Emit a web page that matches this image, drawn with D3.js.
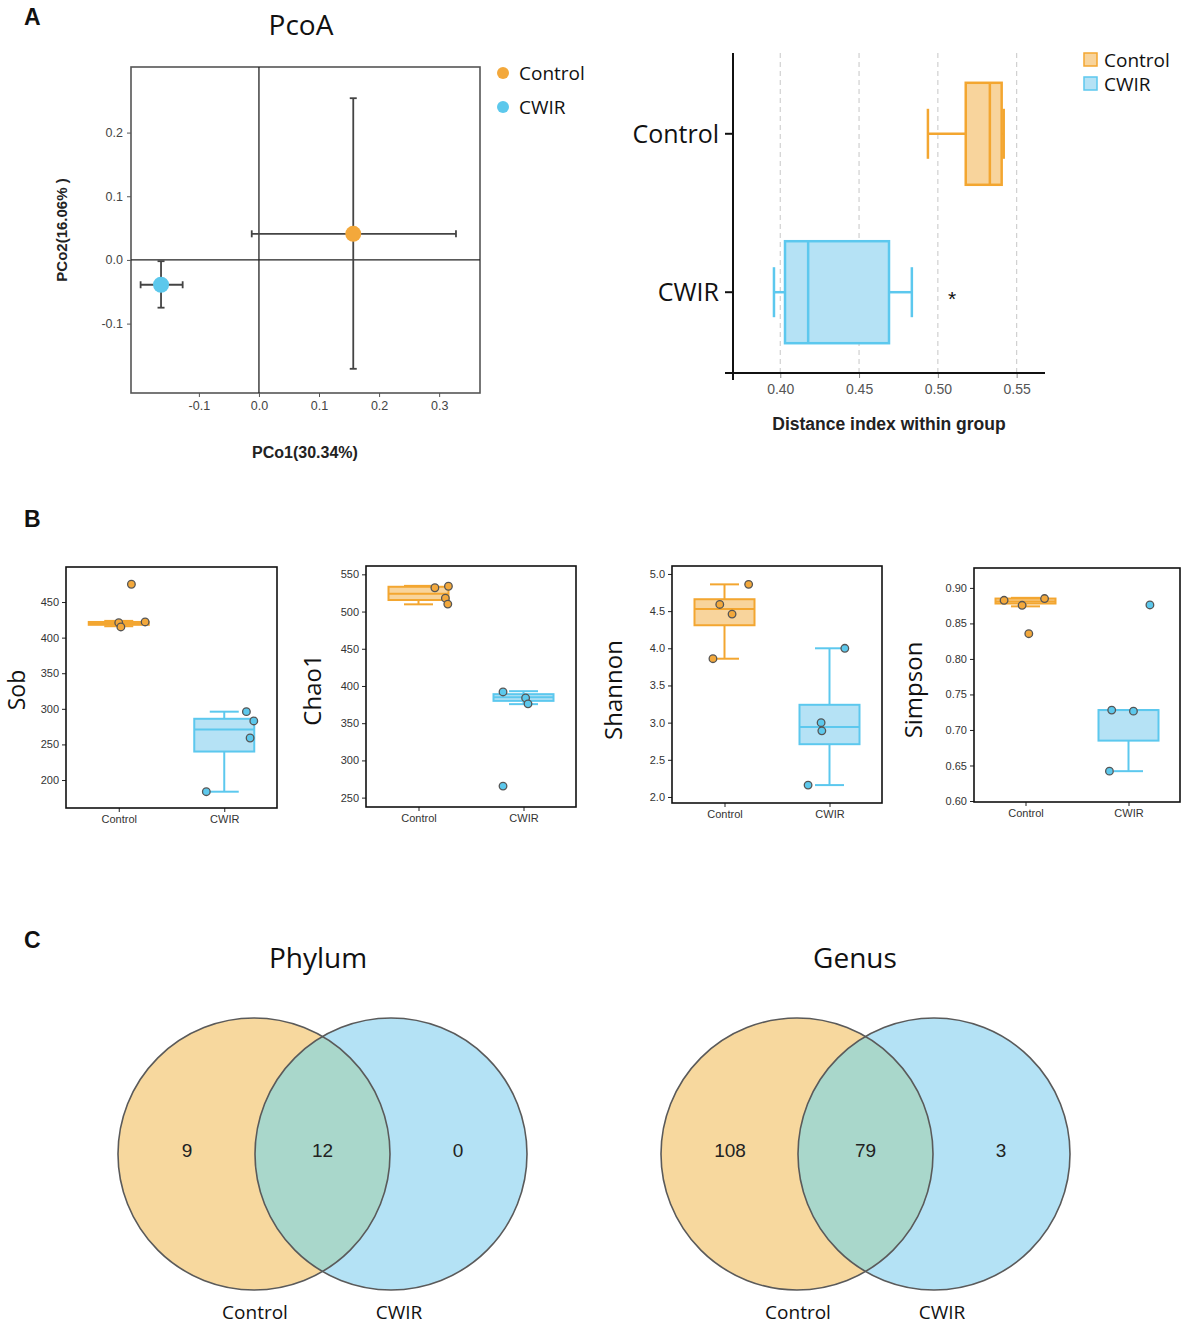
<!DOCTYPE html>
<html><head><meta charset="utf-8">
<script src="https://cdn.jsdelivr.net/npm/d3@7"></script>
<style>body{margin:0;background:#fff}svg{display:block}</style>
</head><body>
<svg id="c" width="1181" height="1325"></svg>
<script>
// ---------------- DATA ----------------
const groups = ["Control", "CWIR"];
// Panel A: PCoA group means and error-bar extents
const pcoaMeanX = [0.157, -0.163];
const pcoaMeanY = [0.041, -0.039];
const pcoaXLow = [-0.012, -0.197];
const pcoaXHigh = [0.328, -0.127];
const pcoaYLow = [-0.171, -0.075];
const pcoaYHigh = [0.254, -0.002];
const pcoaXTicks = [-0.1, 0.0, 0.1, 0.2, 0.3];
const pcoaYTicks = [-0.1, 0.0, 0.1, 0.2];
// Panel A: distance index within group (min, q1, median, q3, max)
const distStats = [[0.4937, 0.5177, 0.533, 0.5405, 0.5418], [0.396, 0.403, 0.4177, 0.469, 0.4835]];
const distTicks = [0.40, 0.45, 0.50, 0.55];
// Panel B: alpha diversity
const alphaNames = ["Sob", "Chao1", "Shannon", "Simpson"];
const alphaTicks = [
  [200, 250, 300, 350, 400, 450],
  [250, 300, 350, 400, 450, 500, 550],
  [2.0, 2.5, 3.0, 3.5, 4.0, 4.5, 5.0],
  [0.60, 0.65, 0.70, 0.75, 0.80, 0.85, 0.90]
];
const alphaTickFormat = ["d", "d", ".1f", ".2f"];
const alphaDomains = [[160.7, 499.2], [237.4, 561.2], [1.919, 5.107], [0.5986, 0.928]];
// box stats per metric per group: min, q1, median, q3, max
const sobStats = [[416, 418, 420, 422, 423.5], [183.6, 240, 271, 286, 296]];
const chaoStats = [[509.7, 515.5, 524, 533.3, 534.5], [375.6, 380, 384.7, 389, 393]];
const shannonStats = [[3.86, 4.31, 4.53, 4.66, 4.86], [2.16, 2.71, 2.94, 3.24, 4.0]];
const simpsonStats = [[0.874, 0.878, 0.881, 0.885, 0.886], [0.642, 0.685, 0.728, 0.728, 0.728]];
// sample points per metric per group
const sobPoints = [[475, 421, 415, 422], [296, 283, 259, 183.6]];
const chaoPoints = [[532, 534, 518, 510], [392, 384, 376, 265.5]];
const shannonPoints = [[4.86, 4.59, 4.46, 3.86], [4.0, 3.0, 2.89, 2.16]];
const simpsonPoints = [[0.8825, 0.8755, 0.885, 0.8355], [0.728, 0.7265, 0.876, 0.642]];
// horizontal jitter of sample points (fraction of category step)
const sobJitter = [[0.12, 0.0, 0.02, 0.25], [0.21, 0.28, 0.245, -0.17]];
const chaoJitter = [[0.156, 0.285, 0.256, 0.279], [-0.195, 0.02, 0.043, -0.195]];
const shannonJitter = [[0.23, -0.045, 0.072, -0.11], [0.146, -0.08, -0.073, -0.204]];
const simpsonJitter = [[-0.208, -0.033, 0.185, 0.032], [-0.163, 0.048, 0.208, -0.185]];
// Panel C: Venn counts (only-left, shared, only-right)
const vennTitles = ["Phylum", "Genus"];
const phylumCounts = [9, 12, 0];
const genusCounts = [108, 79, 3];

// ---------------- STYLE ----------------
const strokeCol = ["#F3A630", "#5CC8EE"];
const fillCol = ["#F8D49C", "#B5E2F5"];
const dotCol = ["#F3A83B", "#5CC8EC"];
const SANS = "'Liberation Sans', Arial, sans-serif";
const HUM = "'Open Sans', 'Noto Sans', sans-serif";
const loc = d3.formatLocale({decimal: ".", thousands: ",", grouping: [3], currency: ["", ""], minus: "-"});

const svg = d3.select("#c");

// panel letters
[["A", 25], ["B", 527], ["C", 948]].forEach(([t, y]) => {
  svg.append("text").attr("x", 24).attr("y", y).text(t)
    .attr("font-family", SANS).attr("font-weight", "bold").attr("font-size", 23).attr("fill", "#111");
});

// ---------------- PANEL A: PCoA ----------------
{
  const L = 131, R = 480, T = 67, B = 393;
  const x = d3.scaleLinear().domain([-0.213, 0.368]).range([L, R]);
  const y = d3.scaleLinear().domain([-0.209, 0.303]).range([B, T]);
  const g = svg.append("g");
  svg.append("text").attr("x", 301).attr("y", 35).attr("text-anchor", "middle")
    .attr("font-family", HUM).attr("font-size", 28).attr("fill", "#111").text("PcoA");

  const ax = g.append("g").attr("transform", `translate(0,${B})`)
    .call(d3.axisBottom(x).tickValues(pcoaXTicks).tickFormat(loc.format(".1f")).tickSize(4).tickPadding(4));
  const ay = g.append("g").attr("transform", `translate(${L},0)`)
    .call(d3.axisLeft(y).tickValues(pcoaYTicks).tickFormat(loc.format(".1f")).tickSize(4).tickPadding(4));
  [ax, ay].forEach(a => {
    a.select(".domain").remove();
    a.selectAll("line").attr("stroke", "#555");
    a.selectAll("text").attr("font-family", SANS).attr("font-size", 12.5).attr("fill", "#444");
  });
  g.append("rect").attr("x", L).attr("y", T).attr("width", R - L).attr("height", B - T)
    .attr("fill", "none").attr("stroke", "#555").attr("stroke-width", 1.6);
  g.append("line").attr("x1", x(0)).attr("x2", x(0)).attr("y1", T).attr("y2", B).attr("stroke", "#222").attr("stroke-width", 1.3);
  g.append("line").attr("x1", L).attr("x2", R).attr("y1", y(0)).attr("y2", y(0)).attr("stroke", "#222").attr("stroke-width", 1.3);

  groups.forEach((gr, i) => {
    const e = g.append("g").attr("stroke", "#444").attr("stroke-width", 1.8);
    e.append("line").attr("x1", x(pcoaXLow[i])).attr("x2", x(pcoaXHigh[i])).attr("y1", y(pcoaMeanY[i])).attr("y2", y(pcoaMeanY[i]));
    e.append("line").attr("y1", y(pcoaYLow[i])).attr("y2", y(pcoaYHigh[i])).attr("x1", x(pcoaMeanX[i])).attr("x2", x(pcoaMeanX[i]));
    [pcoaXLow[i], pcoaXHigh[i]].forEach(v => e.append("line").attr("x1", x(v)).attr("x2", x(v)).attr("y1", y(pcoaMeanY[i]) - 3.5).attr("y2", y(pcoaMeanY[i]) + 3.5));
    [pcoaYLow[i], pcoaYHigh[i]].forEach(v => e.append("line").attr("y1", y(v)).attr("y2", y(v)).attr("x1", x(pcoaMeanX[i]) - 3.5).attr("x2", x(pcoaMeanX[i]) + 3.5));
    g.append("circle").attr("cx", x(pcoaMeanX[i])).attr("cy", y(pcoaMeanY[i])).attr("r", 8).attr("fill", dotCol[i]);
    // legend
    g.append("circle").attr("cx", 503).attr("cy", 73 + i * 34).attr("r", 6).attr("fill", dotCol[i]);
    g.append("text").attr("x", 519).attr("y", 73 + i * 34).attr("dy", "0.35em").text(gr)
      .attr("font-family", HUM).attr("font-size", 19).attr("fill", "#111");
  });
  g.append("text").attr("x", 305).attr("y", 458).attr("text-anchor", "middle").text("PCo1(30.34%)")
    .attr("font-family", SANS).attr("font-weight", "bold").attr("font-size", 16).attr("fill", "#222");
  g.append("text").attr("transform", "translate(67,230) rotate(-90)").attr("text-anchor", "middle").text("PCo2(16.06% )")
    .attr("font-family", SANS).attr("font-weight", "bold").attr("font-size", 15).attr("fill", "#222");
}

// ---------------- PANEL A: distance boxplot ----------------
{
  const L = 733, R = 1045, T = 53, B = 373;
  const x = d3.scaleLinear().domain([0.370, 0.568]).range([L, R]);
  const y = d3.scalePoint().domain(groups).range([T, B]).padding(0.51);
  const g = svg.append("g");
  distTicks.forEach(t => g.append("line").attr("x1", x(t)).attr("x2", x(t)).attr("y1", T).attr("y2", B)
    .attr("stroke", "#d0d0d0").attr("stroke-width", 1.2).attr("stroke-dasharray", "5,4"));
  const ax = g.append("g").attr("transform", `translate(0,${B})`)
    .call(d3.axisBottom(x).tickValues(distTicks).tickFormat(d3.format(".2f")).tickSize(5).tickPadding(6));
  ax.select(".domain").remove();
  ax.selectAll("line").attr("stroke", "#888");
  ax.selectAll("text").attr("font-family", SANS).attr("font-size", 14).attr("fill", "#555");
  g.append("line").attr("x1", 725).attr("x2", R).attr("y1", B).attr("y2", B).attr("stroke", "#111").attr("stroke-width", 2);
  g.append("line").attr("x1", L).attr("x2", L).attr("y1", T).attr("y2", B + 7).attr("stroke", "#111").attr("stroke-width", 2);
  const hh = 51, ch = 25;
  groups.forEach((gr, i) => {
    const s = distStats[i], cy = y(gr);
    g.append("line").attr("x1", 725).attr("x2", L).attr("y1", cy).attr("y2", cy).attr("stroke", "#111").attr("stroke-width", 2);
    g.append("text").attr("x", 719).attr("y", cy).attr("dy", "0.35em").attr("text-anchor", "end").text(gr)
      .attr("font-family", HUM).attr("font-size", 25).attr("fill", "#111");
    const b = g.append("g").attr("stroke", strokeCol[i]).attr("stroke-width", 2.5);
    b.append("line").attr("x1", x(s[0])).attr("x2", x(s[1])).attr("y1", cy).attr("y2", cy);
    b.append("line").attr("x1", x(s[3])).attr("x2", x(s[4])).attr("y1", cy).attr("y2", cy);
    b.append("line").attr("x1", x(s[0])).attr("x2", x(s[0])).attr("y1", cy - ch).attr("y2", cy + ch);
    b.append("line").attr("x1", x(s[4])).attr("x2", x(s[4])).attr("y1", cy - ch).attr("y2", cy + ch);
    b.append("rect").attr("x", x(s[1])).attr("width", x(s[3]) - x(s[1])).attr("y", cy - hh).attr("height", 2 * hh).attr("fill", fillCol[i]);
    b.append("line").attr("x1", x(s[2])).attr("x2", x(s[2])).attr("y1", cy - hh).attr("y2", cy + hh);
    // legend
    g.append("rect").attr("x", 1084).attr("y", 53 + i * 24).attr("width", 13).attr("height", 13)
      .attr("fill", fillCol[i]).attr("stroke", strokeCol[i]).attr("stroke-width", 1.5);
    g.append("text").attr("x", 1104).attr("y", 60 + i * 24).attr("dy", "0.35em").text(gr)
      .attr("font-family", HUM).attr("font-size", 19).attr("fill", "#111");
  });
  g.append("text").attr("x", 952).attr("y", 306).attr("text-anchor", "middle").text("*")
    .attr("font-family", SANS).attr("font-size", 21).attr("fill", "#111");
  g.append("text").attr("x", 889).attr("y", 430).attr("text-anchor", "middle").text("Distance index within group")
    .attr("font-family", SANS).attr("font-weight", "bold").attr("font-size", 17.5).attr("fill", "#222");
}

// ---------------- PANEL B: alpha diversity ----------------
{
  const frames = [[66, 277, 567, 808], [366, 576, 566, 807], [672, 882, 566, 803], [974, 1180, 568, 802]];
  const labelX = [16, 312, 613, 913];
  const stats = [sobStats, chaoStats, shannonStats, simpsonStats];
  const pts = [sobPoints, chaoPoints, shannonPoints, simpsonPoints];
  const jit = [sobJitter, chaoJitter, shannonJitter, simpsonJitter];
  alphaNames.forEach((name, k) => {
    const [L, R, T, B] = frames[k];
    const g = svg.append("g");
    const y = d3.scaleLinear().domain(alphaDomains[k]).range([B, T]);
    const x = d3.scalePoint().domain(groups).range([L, R]).padding(0.5);
    const step = x.step();
    const ay = g.append("g").attr("transform", `translate(${L},0)`)
      .call(d3.axisLeft(y).tickValues(alphaTicks[k]).tickFormat(d3.format(alphaTickFormat[k])).tickSize(4).tickPadding(3));
    const ax = g.append("g").attr("transform", `translate(0,${B})`)
      .call(d3.axisBottom(x).tickSize(4).tickPadding(3));
    [ax, ay].forEach(a => {
      a.select(".domain").remove();
      a.selectAll("line").attr("stroke", "#222");
      a.selectAll("text").attr("font-family", SANS).attr("font-size", 11).attr("fill", "#333");
    });
    g.append("rect").attr("x", L).attr("y", T).attr("width", R - L).attr("height", B - T)
      .attr("fill", "none").attr("stroke", "#111").attr("stroke-width", 1.6);
    g.append("text").attr("transform", `translate(${labelX[k] + 9},${690}) rotate(-90)`).attr("text-anchor", "middle")
      .text(name).attr("font-family", HUM).attr("font-size", k === 0 ? 23 : 24).attr("fill", "#111");
    const hw = 30, cw = 14.5;
    groups.forEach((gr, i) => {
      const s = stats[k][i], cx = x(gr);
      const b = g.append("g").attr("stroke", strokeCol[i]).attr("stroke-width", 2);
      b.append("line").attr("x1", cx).attr("x2", cx).attr("y1", y(s[0])).attr("y2", y(s[1]));
      b.append("line").attr("x1", cx).attr("x2", cx).attr("y1", y(s[3])).attr("y2", y(s[4]));
      b.append("line").attr("x1", cx - cw).attr("x2", cx + cw).attr("y1", y(s[0])).attr("y2", y(s[0]));
      b.append("line").attr("x1", cx - cw).attr("x2", cx + cw).attr("y1", y(s[4])).attr("y2", y(s[4]));
      b.append("rect").attr("x", cx - hw).attr("width", 2 * hw).attr("y", y(s[3])).attr("height", Math.max(0.5, y(s[1]) - y(s[3])))
        .attr("fill", fillCol[i]);
      b.append("line").attr("x1", cx - hw).attr("x2", cx + hw).attr("y1", y(s[2])).attr("y2", y(s[2]));
      pts[k][i].forEach((v, j) => {
        g.append("circle").attr("cx", cx + jit[k][i][j] * step).attr("cy", y(v)).attr("r", 3.8)
          .attr("fill", dotCol[i]).attr("stroke", "#555").attr("stroke-width", 1.3);
      });
    });
  });
}

// ---------------- PANEL C: Venn ----------------
{
  const centers = [[254, 391], [797, 934]];
  const cy = 1154, r = 136;
  const counts = [phylumCounts, genusCounts];
  const titleX = [318, 855];
  const defs = svg.append("defs");
  vennTitles.forEach((title, k) => {
    const g = svg.append("g");
    const [c1, c2] = centers[k];
    g.append("text").attr("x", titleX[k]).attr("y", 968).attr("text-anchor", "middle").text(title)
      .attr("font-family", HUM).attr("font-size", 28).attr("fill", "#111");
    defs.append("clipPath").attr("id", "clip" + k).append("circle").attr("cx", c1).attr("cy", cy).attr("r", r);
    g.append("circle").attr("cx", c1).attr("cy", cy).attr("r", r).attr("fill", "#F7D89E");
    g.append("circle").attr("cx", c2).attr("cy", cy).attr("r", r).attr("fill", "#B4E2F5");
    g.append("circle").attr("cx", c2).attr("cy", cy).attr("r", r).attr("fill", "#A9D7CB").attr("clip-path", `url(#clip${k})`);
    [c1, c2].forEach(c => g.append("circle").attr("cx", c).attr("cy", cy).attr("r", r)
      .attr("fill", "none").attr("stroke", "#5a5a5a").attr("stroke-width", 1.6));
    const xs = [c1 - 67, (c1 + c2) / 2, c2 + 67];
    counts[k].forEach((v, j) => g.append("text").attr("x", xs[j]).attr("y", 1150).attr("dy", "0.35em")
      .attr("text-anchor", "middle").text(v).attr("font-family", SANS).attr("font-size", 19).attr("fill", "#222"));
    [[c1 + 1, "Control"], [c2 + 8, "CWIR"]].forEach(([lx, t]) => g.append("text").attr("x", lx).attr("y", 1319)
      .attr("text-anchor", "middle").text(t).attr("font-family", HUM).attr("font-size", 19).attr("fill", "#111"));
  });
}
</script>
</body></html>
